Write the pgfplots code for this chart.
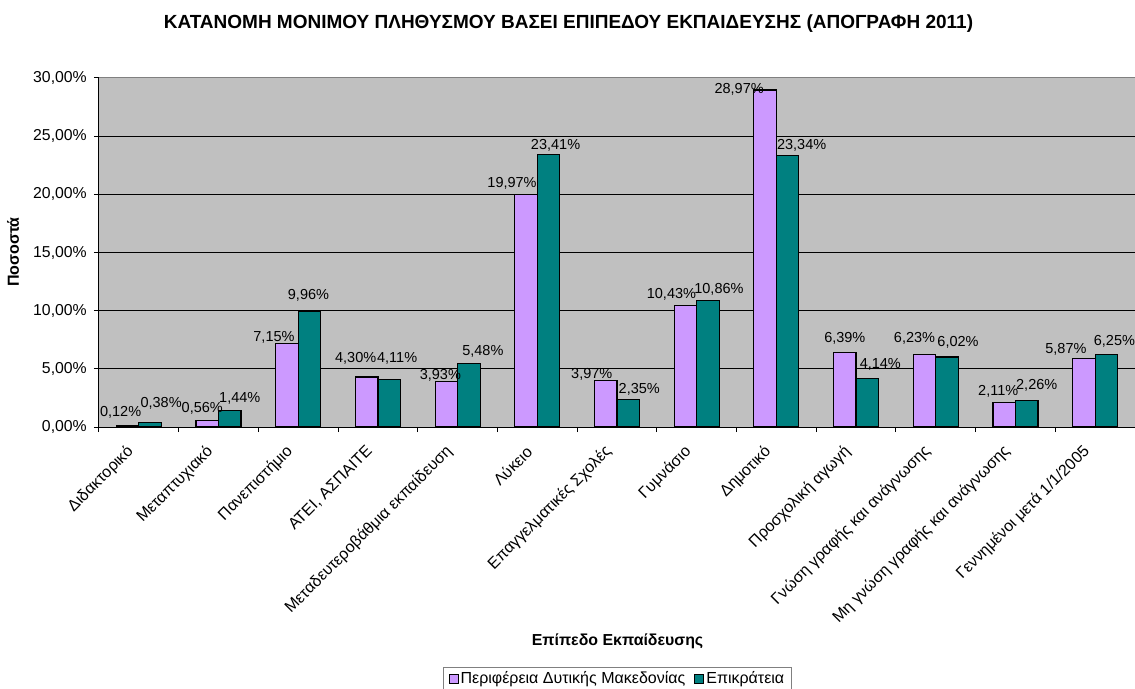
\documentclass[border=0pt]{standalone}
\usepackage{fontspec}
\setmainfont{Liberation Sans}
\usepackage{pgfplots}
\pgfplotsset{compat=1.18}
\usepackage{pgfplotstable}

\definecolor{lav}{RGB}{204,153,255}
\definecolor{tealx}{RGB}{0,128,128}
\definecolor{bgray}{RGB}{192,192,192}

% x = category centre, p = Περιφέρεια, t = Επικράτεια; dx/dy = label offsets (pt)
\pgfplotstableread{
x    p     pdx pdy t     tdx tdy
0.5  0.12  -7  13  0.38  11  19
1.5  0.56  -5  12  1.44  10  12
2.5  7.15  -13 6   9.96  -1  16
3.5  4.30  -11 19  4.11  8   21
4.5  3.93  -6  6   5.48  14  12
5.5  19.97 -14 11  23.41 7   9
6.5  3.97  -14 6   2.35  11  10
7.5  10.43 -14 11  10.86 11  11
8.5  28.97 -26 1   23.34 14  10
9.5  6.39  0   14  4.14  13  14
10.5 6.23  -10 16  6.02  11  15
11.5 2.11  -6  11  2.26  10  15
12.5 5.87  -18 9   6.25  8   12.5
}\levels

\pgfplotsset{
  sqlegend/.style={legend image code/.code={
    \draw[##1,draw=black,line width=1pt] (0pt,-4.5pt) rectangle (9pt,4.5pt);}},
  pctlabel/.style={nodes near coords={\pgfmathprintnumber[fixed,fixed zerofill,precision=2,use comma,assume math mode=true]{\pgfplotspointmeta}\%},
    point meta=y},
}

\begin{document}
\begin{tikzpicture}
\useasboundingbox (-99pt,-261pt) rectangle (1036pt,427pt);
\begin{axis}[
  at={(0pt,0pt)}, anchor=south west,
  scale only axis, width=1036pt, height=349pt,
  xmin=0, xmax=13, ymin=0, ymax=30,
  ybar=0pt, bar width=22.5pt,
  clip=false,
  axis x line*=bottom, axis y line*=left,
  axis line style={black, line width=1pt},
  axis background/.style={fill=bgray},
  tick align=outside,
  major tick length=5pt, minor tick length=5pt,
  every tick/.style={black, line width=1pt},
  xtick={0.5,1.5,...,12.5},
  minor xtick={0,1,...,13},
  major x tick style={draw=none},
  xticklabels={Διδακτορικό, Μεταπτυχιακό, Πανεπιστήμιο, {ΑΤΕΙ, ΑΣΠΑΙΤΕ},
    Μεταδευτεροβάθμια εκπαίδευση, Λύκειο, Επαγγελματικές Σχολές, Γυμνάσιο,
    Δημοτικό, Προσχολική αγωγή, Γνώση γραφής και ανάγνωσης,
    Μη γνώση γραφής και ανάγνωσης, Γεννημένοι μετά 1/1/2005},
  xticklabel style={xshift=-8pt, yshift=-17pt, rotate=45, anchor=east, inner sep=0pt,
    font=\fontsize{16}{18}\selectfont},
  ytick={0,5,...,25},
  yticklabel={\pgfmathprintnumber[fixed,fixed zerofill,precision=2,use comma,assume math mode=true]{\tick}\%},
  extra y ticks={30},
  extra y tick style={grid style={gray, line width=1pt}},
  yticklabel style={anchor=east, inner sep=0pt, xshift=-7pt, font=\fontsize{15.8}{17}\selectfont},
  ymajorgrids,
  grid style={black, line width=0.9pt},
  title={ΚΑΤΑΝΟΜΗ ΜΟΝΙΜΟΥ ΠΛΗΘΥΣΜΟΥ ΒΑΣΕΙ ΕΠΙΠΕΔΟΥ ΕΚΠΑΙΔΕΥΣΗΣ (ΑΠΟΓΡΑΦΗ 2011)},
  title style={font=\bfseries\fontsize{19}{21}\selectfont,
    at={(axis description cs:0.4532,1.140)}, anchor=center},
  xlabel={Επίπεδο Εκπαίδευσης},
  xlabel style={font=\bfseries\fontsize{15.9}{18}\selectfont,
    at={(axis description cs:0.5005,-0.613)}, anchor=center},
  ylabel={Ποσοστά},
  ylabel style={font=\bfseries\fontsize{16}{18}\selectfont,
    at={(axis description cs:-0.083,0.501)}, anchor=center, rotate=0},
  legend columns=2,
  legend style={at={(axis description cs:0.332,-0.688)}, anchor=north west,
    draw=gray, line width=1.3pt, font=\fontsize{16}{18}\selectfont,
    inner xsep=5pt, inner ysep=2pt,
    /tikz/every even column/.append style={column sep=7pt}},
  every node near coord/.append style={font=\fontsize{14.5}{16}\selectfont,
    black, anchor=center, inner sep=0pt},
]
\addplot[fill=lav, draw=black, line width=1.2pt, sqlegend, pctlabel,
  visualization depends on={\thisrow{pdx} \as \dx},
  visualization depends on={\thisrow{pdy} \as \dy},
  every node near coord/.append style={xshift=\dx pt, yshift=\dy pt}]
  table[x=x, y=p] {\levels};
\addplot[fill=tealx, draw=black, line width=1.2pt, sqlegend, pctlabel,
  visualization depends on={\thisrow{tdx} \as \dx},
  visualization depends on={\thisrow{tdy} \as \dy},
  every node near coord/.append style={xshift=\dx pt, yshift=\dy pt}]
  table[x=x, y=t] {\levels};
\legend{Περιφέρεια Δυτικής Μακεδονίας, Επικράτεια}
\end{axis}
\end{tikzpicture}
\end{document}
